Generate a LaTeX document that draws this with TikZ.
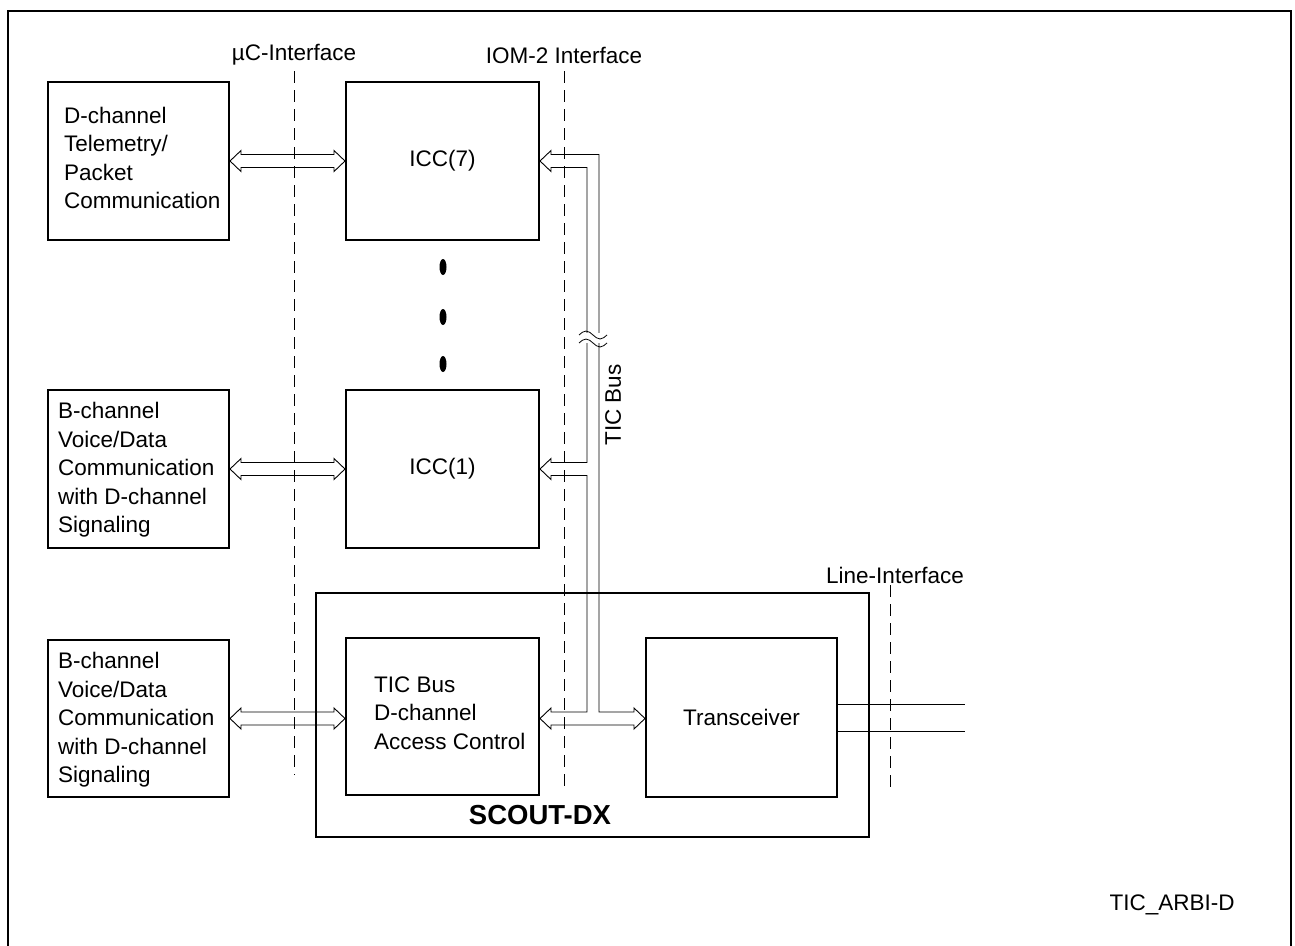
\documentclass[tikz,border=0pt]{standalone}
\usepackage{fontspec}
\setmainfont{Liberation Sans}
\usetikzlibrary{calc,shapes.geometric}
\newcommand{\lblfont}{\fontsize{22.5}{28.5}\selectfont}
\newcommand{\hollowdbl}[2]{%
  \draw[busline] let \p1=(#1), \p2=(#2) in
    (\x1,\y1) -- (\x1+11pt,\y1+10.5pt) -- (\x1+11pt,\y1+6.5pt) --
    (\x2-11pt,\y1+6.5pt) -- (\x2-11pt,\y1+10.5pt) -- (\x2,\y1) --
    (\x2-11pt,\y1-10.5pt) -- (\x2-11pt,\y1-6.5pt) --
    (\x1+11pt,\y1-6.5pt) -- (\x1+11pt,\y1-10.5pt) -- cycle;}
\begin{document}
\begin{tikzpicture}[x=1pt,y=-1pt,
  box/.style={draw, line width=2pt, inner sep=0pt},
  boxtext/.style={font=\lblfont, inner sep=0pt, align=left, anchor=west},
  lbl/.style={font=\lblfont, inner sep=0pt},
  iface/.style={line width=0.9pt, dash pattern=on 12pt off 7pt},
  busline/.style={line width=0.9pt},
  dotmark/.style={ellipse, fill=black, inner sep=0pt, minimum width=7pt, minimum height=16pt}]
\useasboundingbox (0,0) rectangle (1295,945);
% frame
\draw[line width=1.5pt] (8,950) -- (8,11) -- (1291,11) -- (1291,950);

% interface labels and dashed lines
\node[lbl] (uclbl) at (294,55) {µC-Interface};
\node[lbl] (iomlbl) at (564,55) {IOM-2 Interface};
\node[lbl] (linelbl) at (895,575) {Line-Interface};
\coordinate (uctop) at (294,71);  \coordinate (ucbot) at (294,775);
\coordinate (iomtop) at (564,71); \coordinate (iombot) at (564,790);
\coordinate (lntop) at (890,585); \coordinate (lnbot) at (890,792);
\draw[iface] (uctop) -- (ucbot);
\draw[iface] (iomtop) -- (iombot);
\draw[iface] (lntop) -- (lnbot);

% boxes
\node[box, minimum width=181pt, minimum height=158pt] (tel) at (138.5,161) {};
\node[box, minimum width=193pt, minimum height=158pt] (icc7) at (442.5,161) {};
\node[box, minimum width=181pt, minimum height=158pt] (bch1) at (138.5,469) {};
\node[box, minimum width=193pt, minimum height=158pt] (icc1) at (442.5,469) {};
\node[box, minimum width=553pt, minimum height=244pt] (scout) at (592.5,715) {};
\node[box, minimum width=193pt, minimum height=157pt] (tic) at (442.5,716.5) {};
\node[box, minimum width=191pt, minimum height=159pt] (trx) at (741.5,717.5) {};
\node[box, minimum width=181pt, minimum height=157pt] (bch2) at (138.5,718.5) {};

% box texts
\node[boxtext] (telt) at (64,158) {D-channel\\Telemetry/\\Packet\\Communication};
\node[lbl] (icc7t) at (icc7.center) {ICC(7)};
\node[boxtext] (bch1t) at (58,470) {B-channel\\Voice/Data\\Communication\\with D-channel\\Signaling};
\node[lbl] (icc1t) at (icc1.center) {ICC(1)};
\node[boxtext] (tict) at (374,713) {TIC Bus\\D-channel\\Access Control};
\node[lbl] (trxt) at (trx.center) {Transceiver};
\node[boxtext] (bch2t) at (58,720) {B-channel\\Voice/Data\\Communication\\with D-channel\\Signaling};
\node[font=\bfseries\fontsize{27.5}{30}\selectfont, inner sep=0pt] (scoutlbl) at (540,815) {SCOUT-DX};

% dots
\node[dotmark] (d1) at (443,267) {};
\node[dotmark] (d2) at (443,317) {};
\node[dotmark] (d3) at (443,364) {};

% double arrows to the left boxes
\hollowdbl{tel.east}{icc7.west}
\hollowdbl{bch1.east}{icc1.west}
\hollowdbl{bch2.east}{tic.west |- bch2.east}

% TIC bus
\coordinate (busL) at (587,0);
\coordinate (busR) at (599,0);
\draw[busline] let \p1=(icc7.east), \p2=(icc1.east), \p3=(tic.east |- bch2.east),
  \p4=(trx.west |- bch2.east), \p5=(busL), \p6=(busR) in
  (\x1,\y1) -- (\x1+11pt,\y1+10.5pt) -- (\x1+11pt,\y1+6.5pt) -- (\x6,\y1+6.5pt) --
  (\x6,\y4+6.5pt) -- (\x4-11pt,\y4+6.5pt) -- (\x4-11pt,\y4+10.5pt) -- (\x4,\y4) --
  (\x4-11pt,\y4-10.5pt) -- (\x4-11pt,\y4-6.5pt) -- (\x3+11pt,\y3-6.5pt) --
  (\x3+11pt,\y3-10.5pt) -- (\x3,\y3) -- (\x3+11pt,\y3+10.5pt) -- (\x3+11pt,\y3+6.5pt) --
  (\x5,\y3+6.5pt) -- (\x5,\y2-6.5pt) -- (\x2+11pt,\y2-6.5pt) -- (\x2+11pt,\y2-10.5pt) --
  (\x2,\y2) -- (\x2+11pt,\y2+10.5pt) -- (\x2+11pt,\y2+6.5pt) -- (\x5,\y2+6.5pt) --
  (\x5,\y1-6.5pt) -- (\x1+11pt,\y1-6.5pt) -- (\x1+11pt,\y1-10.5pt) -- cycle;
% break mark
\fill[white] (582,333) rectangle (604,343);
\draw[line width=0.8pt] (579,335) sin (586,331) cos (593,335) sin (600,339) cos (607,335);
\draw[line width=0.8pt] (579,343) sin (586,339) cos (593,343) sin (600,347) cos (607,343);
\node[lbl, rotate=90] (ticbus) at (613,405) {TIC Bus};

% line interface wires
\coordinate (w1) at (965,704);
\coordinate (w2) at (965,731);
\draw[busline] (trx.east |- w1) -- (w1);
\draw[busline] (trx.east |- w2) -- (w2);

\node[lbl] (tag) at (1172,905) {TIC\_ARBI-D};
\end{tikzpicture}
\end{document}
